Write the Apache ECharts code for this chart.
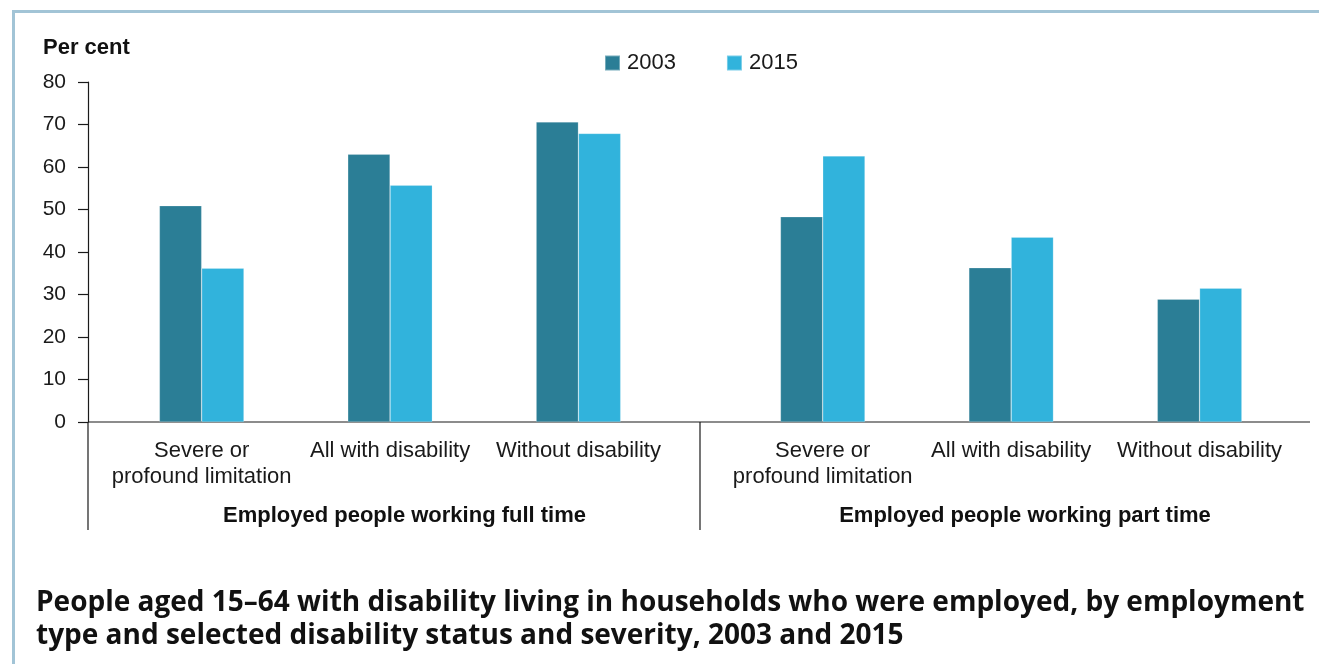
<!DOCTYPE html>
<html>
<head>
<meta charset="utf-8">
<script src="https://cdn.jsdelivr.net/npm/echarts@6/dist/echarts.min.js"></script>
<style>
html,body{margin:0;padding:0;background:#fff;}
#chart{width:1319px;height:664px;}
</style>
</head>
<body>
<div id="chart"></div>
<script>
const categories = ['Severe or\nprofound limitation', 'All with disability', 'Without disability'];
const groupLabels = ['Employed people working full time', 'Employed people working part time'];
const seriesNames = ['2003', '2015'];
const fullTime2003 = [50.9, 63.0, 70.6];
const fullTime2015 = [36.2, 55.7, 67.9];
const partTime2003 = [48.3, 36.3, 28.9];
const partTime2015 = [62.6, 43.5, 31.5];
const yTicks = [0, 10, 20, 30, 40, 50, 60, 70, 80];
const titleLines = ['People aged 15\u201364 with disability living in households who were employed, by employment',
                    'type and selected disability status and severity, 2003 and 2015'];
const yAxisName = 'Per cent';

const C2003 = '#2b7e96';
const C2015 = '#31b3dc';
const FONT = '"Liberation Sans", Arial, sans-serif';

const chart = echarts.init(document.getElementById('chart'), null, {renderer: 'canvas'});

const catAxis = (gi) => ({
  type: 'category', gridIndex: gi, data: categories,
  axisLine: {show: false}, axisTick: {show: false},
  axisLabel: {color: '#1a1a1a', fontSize: 22, fontFamily: FONT, margin: 16, lineHeight: 26, interval: 0}
});
const valAxis = (gi, show) => ({
  type: 'value', gridIndex: gi, min: yTicks[0], max: yTicks[yTicks.length - 1], interval: 10,
  show: show, offset: show ? 19.5 : 0,
  axisLine: {show: true, lineStyle: {color: '#1a1a1a', width: 1.2}},
  axisTick: {show: true, length: 10, lineStyle: {color: '#1a1a1a', width: 1.2}},
  splitLine: {show: false},
  axisLabel: {color: '#1a1a1a', fontSize: 21, fontFamily: FONT, margin: 22}
});
const bar = (name, data, gi, color) => ({
  type: 'bar', name: name, xAxisIndex: gi, yAxisIndex: gi, data: data,
  barWidth: 42.3, barGap: '0%',
  itemStyle: {color: color, borderColor: 'rgba(255,255,255,0.35)', borderWidth: 0.6},
  emphasis: {disabled: true}
});

chart.setOption({
  animation: false,
  backgroundColor: '#ffffff',
  title: {
    text: titleLines.join('\n'), left: 31, top: 582,
    textStyle: {fontFamily: '"Open Sans", "Noto Sans", sans-serif', fontWeight: 'bold', fontSize: 28, lineHeight: 33, color: '#111'}
  },
  legend: {
    data: seriesNames, left: 599, top: 47, itemWidth: 15, itemHeight: 15, itemGap: 50,
    icon: 'rect',
    textStyle: {fontSize: 22, fontFamily: FONT, color: '#1a1a1a', padding: [0, 0, 0, 2]}
  },
  grid: [
    {left: 107.5, right: 1319 - 672.6, top: 82, bottom: 664 - 422},
    {left: 728.5, right: 1319 - 1293.8, top: 82, bottom: 664 - 422}
  ],
  xAxis: [catAxis(0), catAxis(1)],
  yAxis: [valAxis(0, true), valAxis(1, false)],
  series: [
    bar(seriesNames[0], fullTime2003, 0, C2003),
    bar(seriesNames[1], fullTime2015, 0, C2015),
    bar(seriesNames[0], partTime2003, 1, C2003),
    bar(seriesNames[1], partTime2015, 1, C2015)
  ]
});

// decorations computed from the axes
const y0 = chart.convertToPixel({yAxisIndex: 0}, 0);
const axisX = 88;
const dividerX = 700;
const rightX = 1310;
const bottomY = 530;
const lineStyle = {stroke: '#1a1a1a', lineWidth: 1.2};
chart.setOption({
  graphic: [
    {type: 'rect', shape: {x: 12, y: 10, width: 1400, height: 3}, style: {fill: '#a2c4d6'}, silent: true},
    {type: 'rect', shape: {x: 12, y: 10, width: 3, height: 700}, style: {fill: '#a2c4d6'}, silent: true},
    {type: 'line', shape: {x1: axisX, y1: y0, x2: rightX, y2: y0}, style: lineStyle, silent: true},
    {type: 'line', shape: {x1: axisX, y1: y0, x2: axisX, y2: bottomY}, style: lineStyle, silent: true},
    {type: 'line', shape: {x1: dividerX, y1: y0, x2: dividerX, y2: bottomY}, style: lineStyle, silent: true},
    {type: 'text', x: 43, y: 48, style: {text: yAxisName, fontFamily: FONT, fontWeight: 'bold', fontSize: 22, fill: '#111', verticalAlign: 'middle'}, silent: true},
    {type: 'text', x: 404.5, y: 516, style: {text: groupLabels[0], fontFamily: FONT, fontWeight: 'bold', fontSize: 22, fill: '#111', align: 'center', verticalAlign: 'middle'}, silent: true},
    {type: 'text', x: 1025, y: 516, style: {text: groupLabels[1], fontFamily: FONT, fontWeight: 'bold', fontSize: 22, fill: '#111', align: 'center', verticalAlign: 'middle'}, silent: true}
  ]
});
</script>
</body>
</html>
